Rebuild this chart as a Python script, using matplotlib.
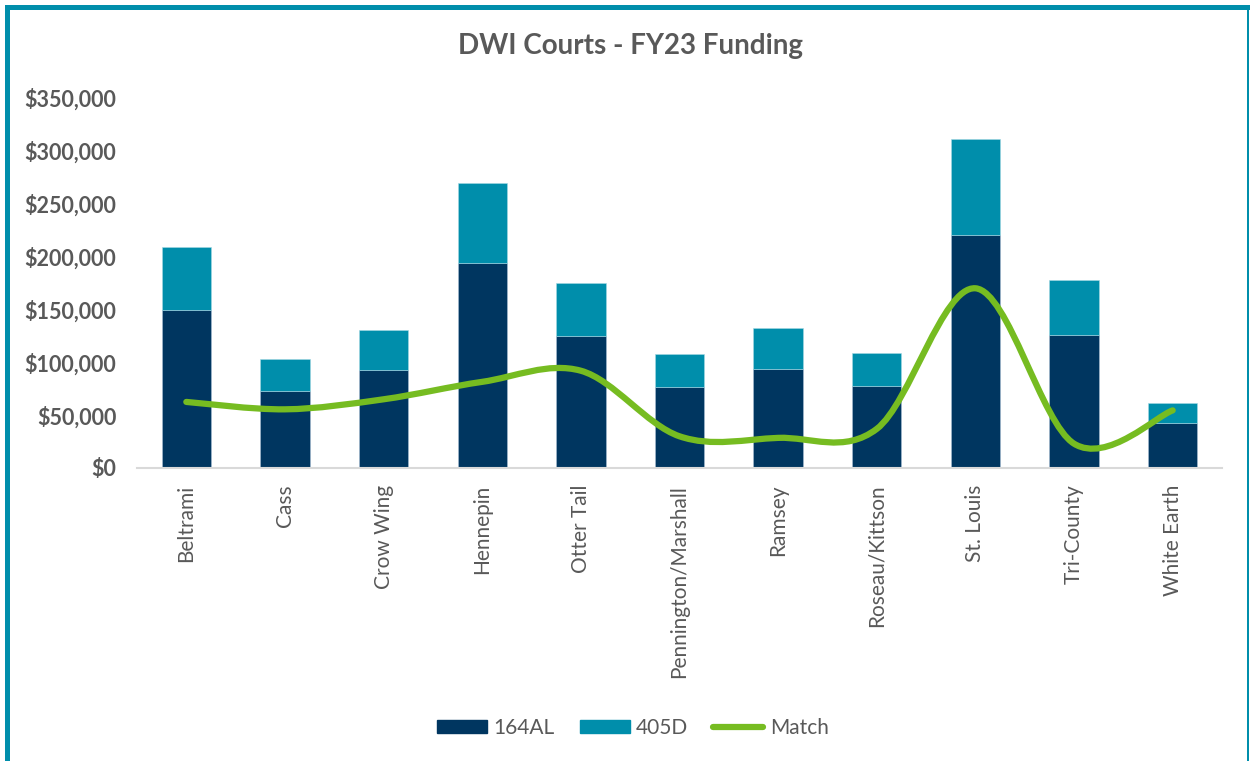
import numpy as np
import matplotlib.pyplot as plt
from matplotlib.path import Path
from matplotlib.patches import PathPatch, Rectangle, Patch
from matplotlib.lines import Line2D
from matplotlib.ticker import FuncFormatter

courts = ['Beltrami', 'Cass', 'Crow Wing', 'Hennepin', 'Otter Tail',
          'Pennington/Marshall', 'Ramsey', 'Roseau/Kittson', 'St. Louis',
          'Tri-County', 'White Earth']
al164 = [149000, 73000, 92500, 194000, 125000, 77000, 93500, 78000, 220500, 126000, 43000]
d405 = [60000, 30000, 38000, 76000, 50000, 31000, 38500, 31000, 90500, 51500, 18500]
match = [62500, 55500, 65000, 81500, 92000, 30000, 28500, 37000, 170000, 23000, 54500]

navy = '#003660'
teal = '#008EAB'
green = '#76BC21'
gray = '#595959'

plt.rcParams['font.family'] = ['Lato', 'DejaVu Sans']

W, H = 1250, 761
fig = plt.figure(figsize=(W / 100, H / 100), dpi=100)
ax = fig.add_axes([137 / W, 1 - 468 / H, (1222 - 137) / W, (468 - 98) / H])

x = np.arange(len(courts))
ax.bar(x, al164, width=0.5, color=navy, edgecolor='#a9bfd3', linewidth=0.4, label='164AL')
ax.bar(x, d405, width=0.5, bottom=al164, color=teal, edgecolor='#a6d8e4', linewidth=0.4, label='405D')

# smoothed line like Excel (cardinal bezier through the points)
pts = np.column_stack([x, match]).astype(float)
verts = [pts[0]]
codes = [Path.MOVETO]
n = len(pts)
for i in range(n - 1):
    p0 = pts[max(i - 1, 0)]
    p1 = pts[i]
    p2 = pts[i + 1]
    p3 = pts[min(i + 2, n - 1)]
    verts += [p1 + (p2 - p0) / 6, p2 - (p3 - p1) / 6, p2]
    codes += [Path.CURVE4] * 3
ax.add_patch(PathPatch(Path(verts, codes), facecolor='none', edgecolor=green,
                       linewidth=4.5, capstyle='round', joinstyle='round', zorder=3))

ax.set_xlim(-0.5, len(courts) - 0.5)
ax.set_ylim(0, 350000)
ax.set_yticks(np.arange(0, 350001, 50000))
ax.yaxis.set_major_formatter(FuncFormatter(lambda v, p: f'${v:,.0f}'))
ax.set_xticks(x)
ax.set_xticklabels(courts, rotation=90, fontsize=15, color=gray)
for lab in ax.get_yticklabels():
    lab.set_fontsize(15.5)
    lab.set_fontweight('bold')
    lab.set_color(gray)
ax.tick_params(length=0)
ax.tick_params(axis='y', pad=15)
ax.tick_params(axis='x', pad=12)
for s in ['top', 'right', 'left']:
    ax.spines[s].set_visible(False)
ax.spines['bottom'].set_color('#d9d9d9')
ax.spines['bottom'].set_linewidth(1.5)

fig.text(630 / W, 1 - 46 / H, 'DWI Courts - FY23 Funding', ha='center', va='center',
         fontsize=20, fontweight='bold', color=gray)

handles = [Patch(color=navy, label='164AL'), Patch(color=teal, label='405D'),
           Line2D([0], [0], color=green, linewidth=4.5, solid_capstyle='round', label='Match')]
fig.legend(handles=handles, loc='center', bbox_to_anchor=(633 / W, 1 - 728 / H), ncol=3,
           frameon=False, fontsize=15, labelcolor=gray, handlelength=2.4, handleheight=0.55,
           handletextpad=0.3, columnspacing=1.2)

# teal frame
fig.add_artist(Rectangle((5 / W, 0), 5 / W, 1 - 5 / H, transform=fig.transFigure, color=teal, lw=0))
fig.add_artist(Rectangle((5 / W, 1 - 10 / H), 1 - 5 / W, 5 / H, transform=fig.transFigure, color=teal, lw=0))
fig.add_artist(Rectangle((1247 / W, 0), 2 / W, 1 - 5 / H, transform=fig.transFigure, color=teal, lw=0))

fig.savefig('out.png', dpi=100)
